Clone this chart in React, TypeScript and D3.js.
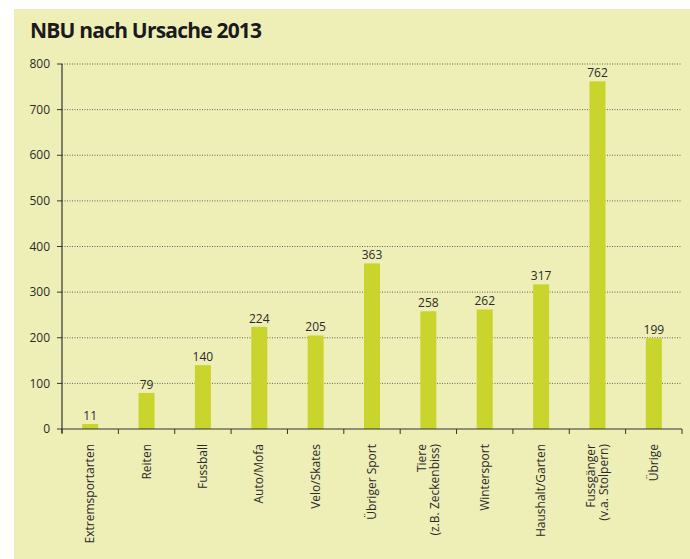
import React from "react";
import * as d3 from "d3";

const categories: string[][] = [
  ["Extremsportarten"],
  ["Reiten"],
  ["Fussball"],
  ["Auto/Mofa"],
  ["Velo/Skates"],
  ["Übriger Sport"],
  ["Tiere", "(z.B. Zeckenbiss)"],
  ["Wintersport"],
  ["Haushalt/Garten"],
  ["Fussgänger", "(v.a. Stolpern)"],
  ["Übrige"],
];
const values: number[] = [11, 79, 140, 224, 205, 363, 258, 262, 317, 762, 199];
const yTicks: number[] = [0, 100, 200, 300, 400, 500, 600, 700, 800];
const title = "NBU nach Ursache 2013";

export default function App() {
  const W = 690, H = 559;
  const left = 62, right = 682, top = 64, bottom = 429;
  const x = d3.scaleBand<number>().domain(d3.range(values.length)).range([left, right]).padding(0);
  const y = d3.scaleLinear().domain([0, 800]).range([bottom, top]);
  const barW = 16;
  const font = "'Open Sans', 'DejaVu Sans', sans-serif";
  const textColor = "#2a2a2a";
  return (
    <svg width={W} height={H} style={{ position: "absolute", left: 0, top: 0 }} fontFamily={font}>
      <rect x={14} y={9} width={W - 14} height={H - 9} fill="#EEEFB7" />
      <text x={30} y={38} fontSize={21} fontWeight={700} fill="#1a1a1a" letterSpacing={-0.8}>{title}</text>
      {yTicks.map((t) => (
        <g key={t}>
          {t > 0 && (
            <line x1={left} x2={right} y1={y(t)} y2={y(t)} stroke="#444" strokeWidth={1} strokeDasharray="1,1.5" opacity={0.8} />
          )}
          <line x1={57} x2={left} y1={y(t)} y2={y(t)} stroke="#333" strokeWidth={1} />
          <text x={50} y={y(t)} dy="0.35em" textAnchor="end" fontSize={12} fill={textColor}>{t}</text>
        </g>
      ))}
      {values.map((v, i) => {
        const cx = x(i)! + x.bandwidth() / 2;
        return (
          <g key={i}>
            <rect x={cx - barW / 2} y={y(v)} width={barW} height={bottom - y(v)} fill="#C9D52C" />
            <text x={cx} y={y(v) - 4} textAnchor="middle" fontSize={12} fill={textColor}>{v}</text>
          </g>
        );
      })}
      <line x1={left} x2={left} y1={top} y2={433} stroke="#333" strokeWidth={1.2} />
      <line x1={left} x2={right} y1={bottom} y2={bottom} stroke="#333" strokeWidth={1.2} />
      {d3.range(values.length + 1).map((i) => {
        const xx = left + i * x.bandwidth();
        return <line key={i} x1={xx} x2={xx} y1={bottom} y2={434} stroke="#333" strokeWidth={1} />;
      })}
      {categories.map((lines, i) => {
        const cx = x(i)! + x.bandwidth() / 2;
        const n = lines.length;
        return lines.map((ln, j) => {
          const off = (j - (n - 1) / 2) * 13;
          return (
            <text
              key={i + "-" + j}
              transform={`translate(${cx + off + 4},444) rotate(-90)`}
              textAnchor="end"
              fontSize={12}
              fill={textColor}
            >
              {ln}
            </text>
          );
        });
      })}
    </svg>
  );
}
